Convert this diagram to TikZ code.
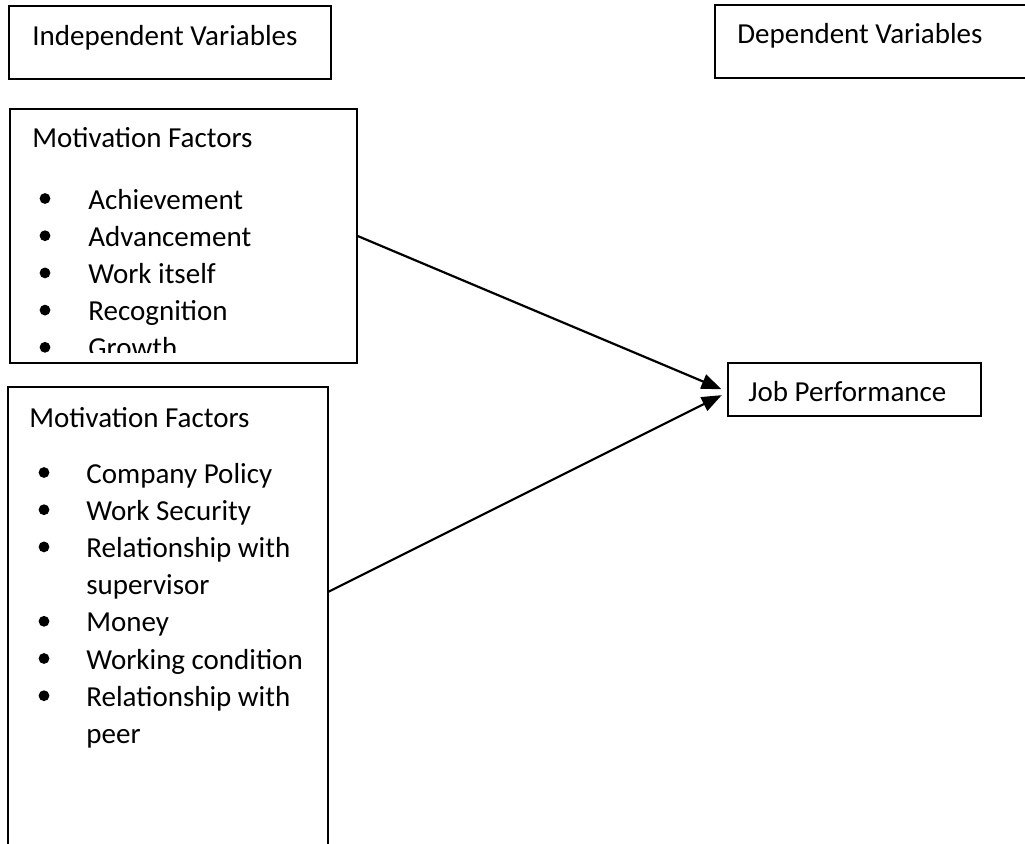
\documentclass[tikz,border=0pt]{standalone}
\usepackage{fontspec}
\setmainfont{Carlito}
\usetikzlibrary{arrows.meta,calc}

\tikzset{
  box/.style={draw,line width=1pt,inner sep=0pt,outer sep=0pt,anchor=north west},
  lbl/.style={anchor=base west,inner sep=0pt,font=\fontsize{14.5}{17}\selectfont},
  bul/.style={circle,fill,inner sep=0pt,minimum size=5.4pt},
  link/.style={->,line width=1.1pt,shorten >=3.5pt}
}

\begin{document}
\begin{tikzpicture}[x=0.5pt,y=-0.5pt,>={Triangle[length=10pt,width=7.5pt]}]
\useasboundingbox (0,0) rectangle (1025,843);
\clip (0,0) rectangle (1025,843);

% headings
\node[box,minimum width=161pt,minimum height=36.5pt] (indep) at (9,6) {};
\node[lbl] (indeptxt) at (32,45) {Independent Variables};
\node[box,minimum width=170pt,minimum height=36.5pt] (dep) at (715,5) {};
\node[lbl] (deptxt) at (737,43) {Dependent Variables};

% first group
\node[box,minimum width=173.5pt,minimum height=127pt] (mot1) at (9.5,108.5) {};
\node[lbl] (mot1head) at (32,147) {Motivation Factors};
\begin{scope}
  \clip (10,109) rectangle (355,352);
  \foreach \t [count=\i] in {Achievement,Advancement,Work itself,Recognition,Growth}{
    \node[bul] (ba\i) at (45,{198.5+37.2*(\i-1)}) {};
    \node[lbl] (ta\i) at (88,{209+37.2*(\i-1)}) {\t};
  }
\end{scope}

% second group
\node[box,minimum width=160pt,minimum height=250pt] (mot2) at (8,387) {};
\node[lbl] (mot2head) at (29,427) {Motivation Factors};
\foreach \t/\b [count=\i] in {Company Policy/1,Work Security/1,Relationship with/1,supervisor/0,Money/1,Working condition/1,Relationship with/1,peer/0}{
  \ifnum\b=1 \node[bul] (bb\i) at (44,{472.5+37.2*(\i-1)}) {};\fi
  \node[lbl] (tb\i) at (86,{483+37.2*(\i-1)}) {\t};
}

% outcome
\node[box,minimum width=126.5pt,minimum height=26.5pt] (job) at (728,363) {};
\node[lbl] (jobtxt) at (748,401) {Job Performance};

\coordinate (mot2out) at ($(mot2.north east)+(0,205)$);
\coordinate (jobin) at ($(job.west)+(0,2.5)$);
\draw[link] (mot1.east) -- (jobin);
\draw[link] (mot2out) -- (jobin);
\end{tikzpicture}
\end{document}
